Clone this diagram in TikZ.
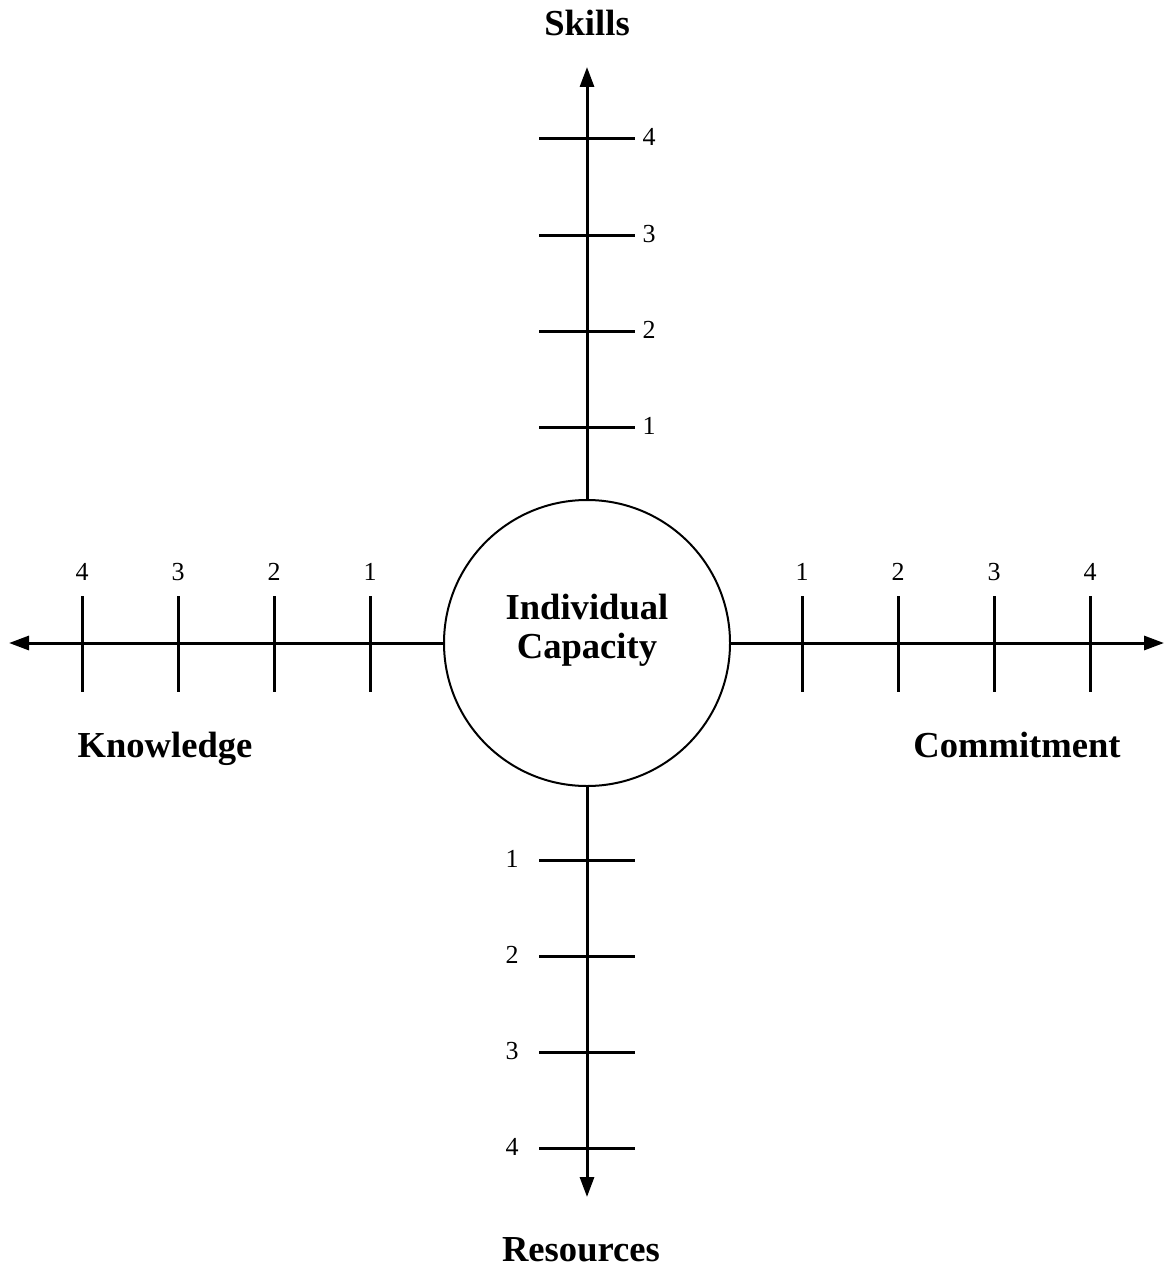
\documentclass[tikz,border=0pt]{standalone}
\usepackage{fontspec}
\setmainfont{Liberation Serif}
\usetikzlibrary{arrows.meta}
\begin{document}
\begin{tikzpicture}[x=1pt,y=-1pt,
  axisline/.style={line width=3pt,-{Triangle[length=20pt,width=14pt]}},
  tickline/.style={line width=3pt},
  numlbl/.style={font=\fontsize{26}{28}\selectfont,inner sep=0pt,anchor=base},
  biglbl/.style={font=\fontsize{36.6}{40}\selectfont\bfseries,inner sep=0pt,anchor=base}]
\useasboundingbox (0,0) rectangle (1163,1268);
\node[circle,draw,line width=2pt,minimum size=286pt,inner sep=0pt] (c) at (587,643) {};
\node[biglbl] (ind) at (587,619) {Individual};
\node[biglbl] (cap) at (587,658) {Capacity};
\coordinate (tN) at (587,67);
\coordinate (tS) at (587,1197);
\coordinate (tW) at (9,643);
\coordinate (tE) at (1164,643);
\draw[axisline] (c.north) -- (tN);
\draw[axisline] (c.south) -- (tS);
\draw[axisline] (c.west) -- (tW);
\draw[axisline] (c.east) -- (tE);
\foreach \i/\v in {1/427,2/331,3/235,4/139}{
  \draw[tickline] (539,\v) -- (635,\v);
  \node[numlbl] (n\i) at (649,\v+7) {\i};
}
\foreach \i/\v in {1/860,2/956,3/1052,4/1148}{
  \draw[tickline] (539,\v) -- (635,\v);
  \node[numlbl] (s\i) at (512,\v+7) {\i};
}
\foreach \i/\u in {1/370,2/274,3/178,4/82}{
  \draw[tickline] (\u,596) -- (\u,692);
  \node[numlbl] (w\i) at (\u,580) {\i};
}
\foreach \i/\u in {1/802,2/898,3/994,4/1090}{
  \draw[tickline] (\u,596) -- (\u,692);
  \node[numlbl] (e\i) at (\u,580) {\i};
}
\node[biglbl] (skills) at (587,36) {Skills};
\node[biglbl] (res) at (581,1261) {Resources};
\node[biglbl] (know) at (165,757) {Knowledge};
\node[biglbl] (comm) at (1017,757) {Commitment};
\end{tikzpicture}
\end{document}
